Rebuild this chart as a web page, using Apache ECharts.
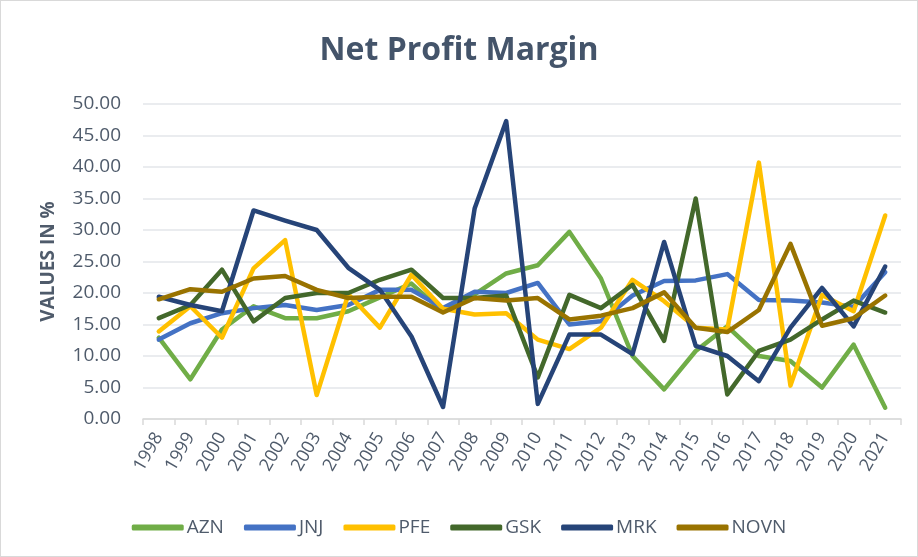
<!DOCTYPE html>
<html>
<head>
<meta charset="utf-8">
<script src="https://cdn.jsdelivr.net/npm/echarts@6/dist/echarts.min.js"></script>
<style>
  html, body { margin: 0; padding: 0; background: #fff; }
  #chart { width: 916px; height: 555px; border: 1px solid #d9d9d9; }
</style>
</head>
<body>
<div id="chart"></div>
<script>
// Net profit margin per company, values in %
const years = ['1998', '1999', '2000', '2001', '2002', '2003', '2004', '2005', '2006', '2007', '2008', '2009',
  '2010', '2011', '2012', '2013', '2014', '2015', '2016', '2017', '2018', '2019', '2020', '2021']

const azn = [12.9, 6.3, 14.2, 17.9, 16.0, 16.0, 17.1, 19.3, 21.5, 17.0, 19.8, 23.1,
  24.4, 29.7, 22.3, 10.0, 4.7, 10.8, 14.7, 10.0, 9.2, 5.0, 11.8, 1.8]
const jnj = [12.6, 15.2, 16.8, 17.6, 18.1, 17.3, 18.1, 20.5, 20.5, 17.6, 20.2, 20.0,
  21.6, 15.0, 15.5, 19.6, 21.9, 22.0, 23.0, 18.9, 18.8, 18.5, 17.8, 23.3]
const pfe = [13.9, 17.9, 12.9, 23.9, 28.4, 3.8, 19.8, 14.5, 22.9, 17.5, 16.6, 16.8,
  12.6, 11.1, 14.5, 22.1, 18.7, 14.5, 14.2, 40.7, 5.3, 19.7, 17.1, 32.3]
const gsk = [16.0, 18.1, 23.7, 15.5, 19.2, 20.0, 20.0, 22.1, 23.7, 19.2, 19.2, 19.6,
  6.6, 19.7, 17.6, 21.3, 12.4, 35.0, 3.9, 10.8, 12.6, 15.8, 18.8, 16.9]
const mrk = [19.4, 18.1, 17.1, 33.1, 31.5, 30.0, 24.0, 20.5, 13.1, 1.9, 33.4, 47.3,
  2.4, 13.4, 13.4, 10.3, 28.1, 11.6, 10.0, 6.0, 14.5, 20.8, 14.7, 24.2]
const novn = [19.0, 20.6, 20.2, 22.3, 22.7, 20.5, 19.2, 19.4, 19.4, 16.9, 19.2, 18.8,
  19.2, 15.8, 16.4, 17.6, 20.1, 14.5, 13.8, 17.3, 27.8, 14.8, 16.0, 19.6]

const seriesNames = ['AZN', 'JNJ', 'PFE', 'GSK', 'MRK', 'NOVN']
const seriesData = [azn, jnj, pfe, gsk, mrk, novn]
const colors = ['#70AD47', '#4472C4', '#FFC000', '#43682B', '#264478', '#997300']

const textColor = '#4f5b6b'

const chart = echarts.init(document.getElementById('chart'))

const option = {
  color: colors,
  animation: false,
  title: {
    text: 'Net Profit Margin',
    left: 'center',
    top: 29,
    textStyle: {
      fontFamily: 'Open Sans',
      fontSize: 32,
      fontWeight: 'bold',
      color: '#44546A'
    }
  },
  legend: {
    top: 512,
    left: 'center',
    icon: 'roundRect',
    itemWidth: 52,
    itemHeight: 6,
    itemGap: 20,
    textStyle: {
      fontFamily: 'Open Sans',
      fontSize: 19,
      color: textColor,
      padding: [0, 0, 0, -2]
    },
    data: seriesNames
  },
  grid: {
    left: 142,
    right: 16,
    top: 103,
    bottom: 137
  },
  xAxis: {
    type: 'category',
    data: years,
    axisLine: {
      lineStyle: { color: '#d9d9d9', width: 1.5 }
    },
    axisTick: {
      show: true,
      length: 6,
      lineStyle: { color: '#d9d9d9', width: 1.5 }
    },
    axisLabel: {
      rotate: 60,
      margin: 15,
      fontFamily: 'Open Sans',
      fontSize: 18,
      color: textColor
    }
  },
  yAxis: {
    type: 'value',
    min: 0,
    max: 50,
    interval: 5,
    name: 'VALUES IN %',
    nameLocation: 'middle',
    nameGap: 85,
    nameTextStyle: {
      fontFamily: 'Open Sans',
      fontSize: 19,
      fontWeight: 'bold',
      color: textColor
    },
    axisLine: { show: false },
    axisTick: { show: false },
    axisLabel: {
      fontFamily: 'Open Sans',
      fontSize: 19,
      color: textColor,
      margin: 22,
      formatter: v => v.toFixed(2)
    },
    splitLine: {
      lineStyle: { color: '#e3e6ea', width: 1.5 }
    }
  },
  series: seriesNames.map((name, i) => ({
    name: name,
    type: 'line',
    data: seriesData[i],
    showSymbol: false,
    symbol: 'none',
    lineStyle: { width: 4.5, cap: 'round', join: 'round' }
  }))
}

chart.setOption(option)
</script>
</body>
</html>
